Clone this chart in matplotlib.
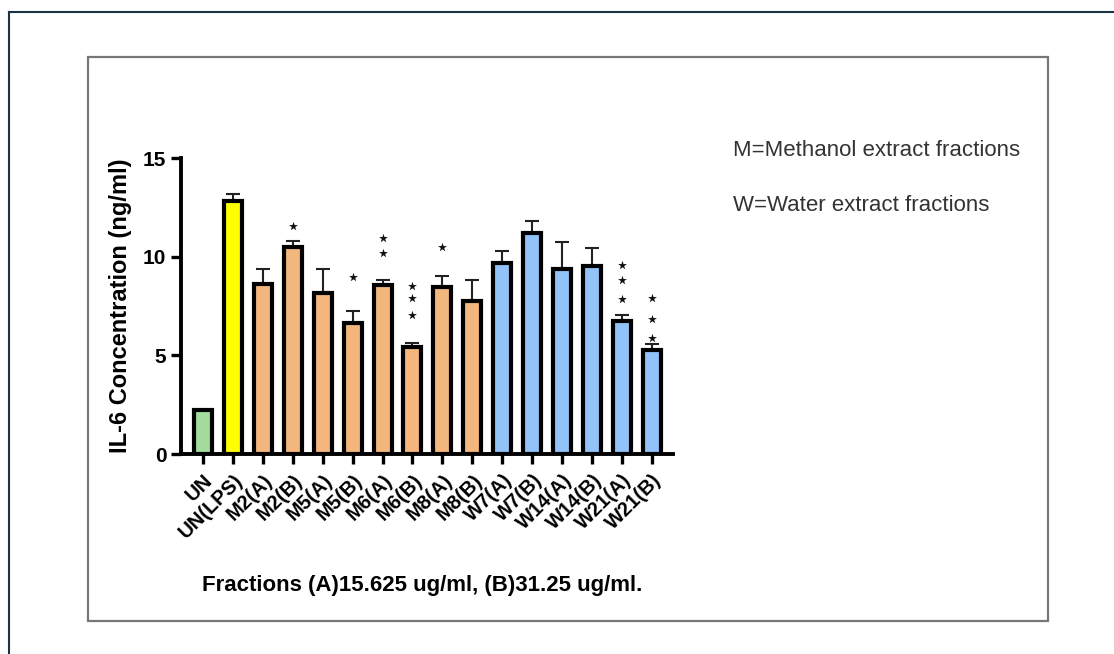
import matplotlib.pyplot as plt
from matplotlib.patches import Rectangle
from matplotlib.lines import Line2D

plt.rcParams['font.family'] = ['Liberation Sans', 'DejaVu Sans']

# data
labels = ['UN', 'UN(LPS)', 'M2(A)', 'M2(B)', 'M5(A)', 'M5(B)', 'M6(A)', 'M6(B)',
          'M8(A)', 'M8(B)', 'W7(A)', 'W7(B)', 'W14(A)', 'W14(B)', 'W21(A)', 'W21(B)']
means = [2.22, 12.84, 8.62, 10.47, 8.18, 6.65, 8.57, 5.41,
         8.45, 7.77, 9.66, 11.22, 9.38, 9.53, 6.76, 5.27]
err_top = [2.25, 13.16, 9.36, 10.80, 9.36, 7.26, 8.80, 5.61,
           9.04, 8.84, 10.27, 11.79, 10.74, 10.42, 7.05, 5.58]
groups = ['UN', 'LPS', 'M', 'M', 'M', 'M', 'M', 'M',
          'M', 'M', 'W', 'W', 'W', 'W', 'W', 'W']
# significance stars: bar index -> y values of each star
stars = {3: [11.56], 5: [8.99], 6: [10.93, 10.17], 7: [8.53, 7.89, 7.05],
         8: [10.51], 14: [9.58, 8.82, 7.86], 15: [7.92, 6.84, 5.86]}

colors = {'UN': '#a3dc9c', 'LPS': '#ffff00', 'M': '#f3b77d', 'W': '#92c3f8'}

fig = plt.figure(figsize=(11.14, 6.54), dpi=100)

# outer page frame and inner box
fig.add_artist(Line2D([9 / 1114, 1], [1 - 12 / 654, 1 - 12 / 654], color='#1b3445', lw=1.5))
fig.add_artist(Line2D([9 / 1114, 9 / 1114], [0, 1 - 12 / 654], color='#1b3445', lw=1.5))
fig.add_artist(Rectangle((88 / 1114, 1 - 621 / 654), (1048 - 88) / 1114, (621 - 57) / 654,
                         fill=False, edgecolor='#777777', lw=1.6))

ax = fig.add_axes([181 / 1114, 1 - 454 / 654, (673 - 181) / 1114, (454 - 158) / 654])

x = list(range(len(labels)))
errs = [t - m for t, m in zip(err_top, means)]
ax.bar(x, means, width=0.6, color=[colors[g] for g in groups],
       edgecolor='black', linewidth=3.0, zorder=2)
ax.errorbar(x, means, yerr=[[0] * len(x), errs], fmt='none', ecolor='#222222',
            elinewidth=1.5, capsize=5, capthick=1.5, zorder=1)

for i, ys in stars.items():
    ax.scatter([i] * len(ys), ys, marker='*', s=45, color='#111111', zorder=3, linewidths=0)

ax.set_xlim(-0.73, 15.7)
ax.set_ylim(0, 15)
ax.set_yticks([0, 5, 10, 15])
ax.set_yticklabels(['0', '5', '10', '15'], fontsize=15, fontweight='bold')
ax.set_xticks(x)
ax.set_xticklabels(labels, rotation=45, ha='right', rotation_mode='anchor',
                   fontsize=14.5, fontweight='bold')
ax.tick_params(axis='both', width=2.4, length=7, direction='out')
ax.tick_params(axis='x', pad=5)
for s in ['top', 'right']:
    ax.spines[s].set_visible(False)
for s in ['left', 'bottom']:
    ax.spines[s].set_linewidth(2.8)

ax.set_ylabel('IL-6 Concentration (ng/ml)', fontsize=17, fontweight='bold', labelpad=8)
fig.text(422 / 1114, 1 - 585 / 654, 'Fractions (A)15.625 ug/ml, (B)31.25 ug/ml.',
         ha='center', va='center', fontsize=16, fontweight='bold')

fig.text(733 / 1114, 1 - 150 / 654, 'M=Methanol extract fractions',
         ha='left', va='center', fontsize=16, color='#333333')
fig.text(733 / 1114, 1 - 205 / 654, 'W=Water extract fractions',
         ha='left', va='center', fontsize=16, color='#333333')

fig.savefig('out.png', dpi=100)
